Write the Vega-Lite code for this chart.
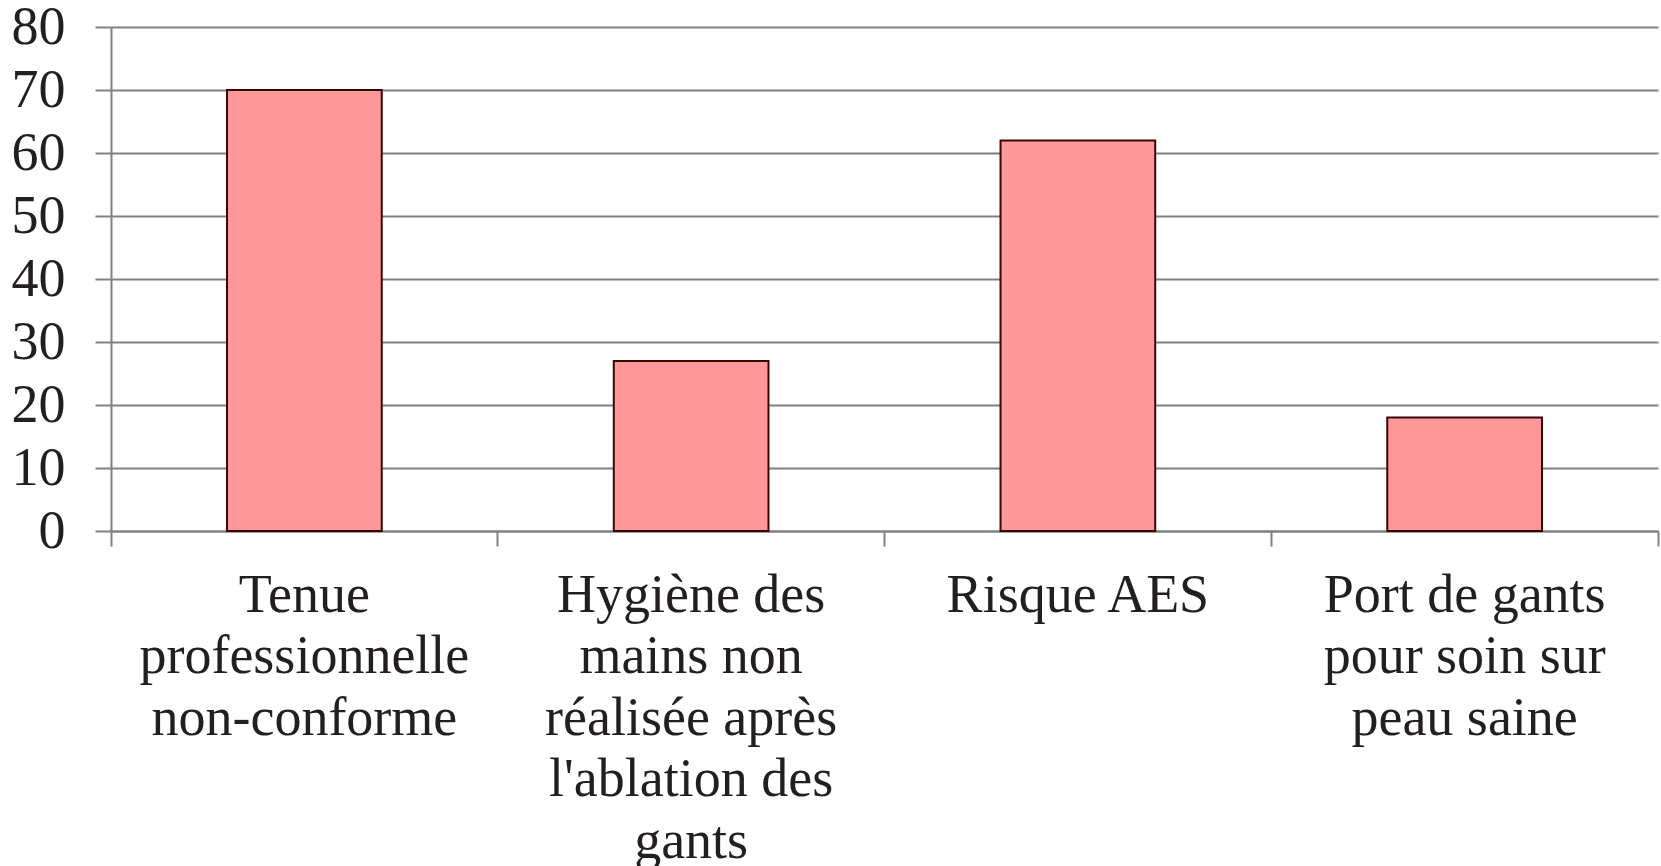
{
  "$schema": "https://vega.github.io/schema/vega-lite/v6.json",
  "autosize": {"type": "none"},
  "padding": {"left": 111, "top": 27, "right": 3, "bottom": 335},
  "width": 1547,
  "height": 504,
  "background": "#ffffff",
  "config": {
    "view": {"stroke": null},
    "font": "Liberation Serif"
  },
  "data": {
    "values": [
      {"categorie": "Tenue|professionnelle|non-conforme", "valeur": 70},
      {"categorie": "Hygiène des|mains non|réalisée après|l'ablation des|gants", "valeur": 27},
      {"categorie": "Risque AES", "valeur": 62},
      {"categorie": "Port de gants|pour soin sur|peau saine", "valeur": 18}
    ]
  },
  "mark": {
    "type": "bar",
    "width": {"band": 0.4},
    "fill": "#ff9999",
    "stroke": "#3a0505",
    "strokeWidth": 2
  },
  "encoding": {
    "x": {
      "field": "categorie",
      "type": "nominal",
      "sort": null,
      "scale": {"paddingInner": 0, "paddingOuter": 0},
      "axis": {
        "title": null,
        "labelAngle": 0,
        "bandPosition": 1,
        "tickExtra": true,
        "labelOffset": 0,
        "labelExpr": "split(datum.label, '|')",
        "labelFont": "Liberation Serif",
        "labelFontSize": 54,
        "labelLineHeight": 61.5,
        "labelColor": "#231f20",
        "labelLimit": 0,
        "labelPadding": 22,
        "labelBaseline": "top",
        "labelAlign": "center",
        "labelFlush": false,
        "labelOverlap": false,
        "tickSize": 15,
        "tickColor": "#808080",
        "tickWidth": 2,
        "domainColor": "#808080",
        "domainWidth": 2,
        "grid": false
      }
    },
    "y": {
      "field": "valeur",
      "type": "quantitative",
      "scale": {"domain": [0, 80], "nice": false},
      "axis": {
        "title": null,
        "values": [0, 10, 20, 30, 40, 50, 60, 70, 80],
        "labelFont": "Liberation Serif",
        "labelFontSize": 54,
        "labelColor": "#231f20",
        "labelPadding": 30,
        "labelFlush": false,
        "tickSize": 16,
        "tickColor": "#808080",
        "tickWidth": 2,
        "domainColor": "#808080",
        "domainWidth": 2,
        "grid": true,
        "gridColor": "#808080",
        "gridWidth": 2,
        "gridOpacity": 1
      }
    }
  }
}
